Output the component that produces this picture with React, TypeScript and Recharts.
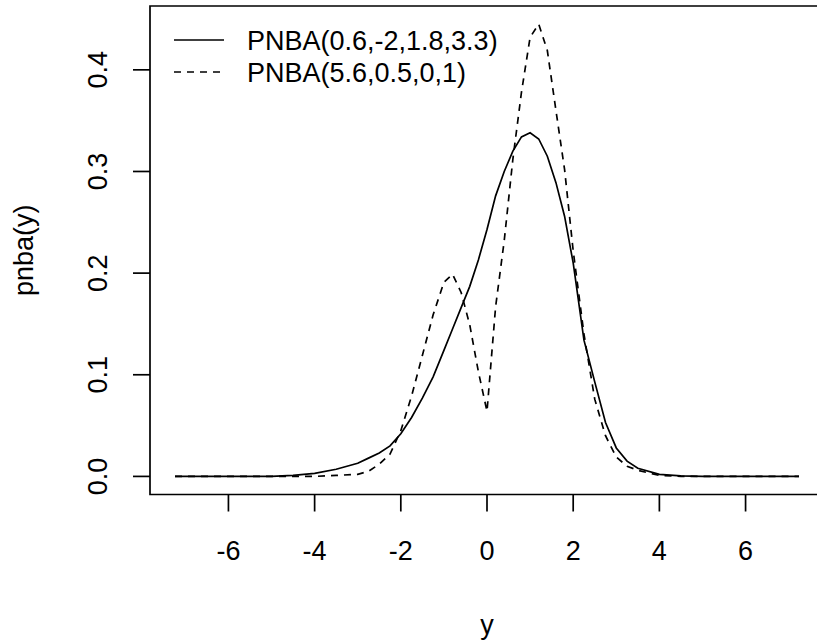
import React from 'react';
import { LineChart, Line, XAxis, YAxis, ReferenceArea } from 'recharts';

// values
const yGrid = [
  -7.24, -6.5, -6, -5.5, -5, -4.5, -4, -3.5, -3,
  -2.75, -2.5, -2.25, -2, -1.75, -1.5, -1.25, -1,
  -0.8, -0.6, -0.4, -0.2, 0,
  0.2, 0.4, 0.6, 0.8, 1,
  1.2, 1.4, 1.6, 1.8, 2,
  2.25, 2.5, 2.75, 3, 3.25, 3.5,
  4, 4.5, 5, 5.5, 6, 6.5, 7.24,
];

const pnbaA = [
  0, 0, 0, 0, 0, 0.001, 0.003, 0.007, 0.013,
  0.018, 0.023, 0.03, 0.042, 0.058, 0.077, 0.098, 0.124,
  0.145, 0.166, 0.187, 0.213, 0.243,
  0.276, 0.3, 0.32, 0.334, 0.338,
  0.332, 0.315, 0.289, 0.256, 0.21,
  0.134, 0.093, 0.053, 0.028, 0.015, 0.008,
  0.002, 0.0005, 0, 0, 0, 0, 0,
];

const pnbaB = [
  0, 0, 0, 0, 0, 0, 0, 0.001, 0.002,
  0.005, 0.012, 0.022, 0.045, 0.079, 0.119, 0.159, 0.191,
  0.199, 0.181, 0.149, 0.103, 0.064,
  0.167, 0.232, 0.312, 0.378, 0.432,
  0.445, 0.419, 0.36, 0.302, 0.222,
  0.14, 0.076, 0.04, 0.019, 0.01, 0.006,
  0.001, 0, 0, 0, 0, 0, 0,
];

const seriesNames = ['PNBA(0.6,-2,1.8,3.3)', 'PNBA(5.6,0.5,0,1)'];
const xTicks = [-6, -4, -2, 0, 2, 4, 6];
const yTicks = [0, 0.1, 0.2, 0.3, 0.4];

const X_DOMAIN: [number, number] = [-7.82, 7.82];
const Y_DOMAIN: [number, number] = [-0.0178, 0.4628];

const FONT = '"Liberation Sans", Arial, sans-serif';
const FS = 27;
const LW = 1.7;
const DASH = '7 6';

const data = yGrid.map((y, i) => ({ y, a: pnbaA[i], b: pnbaB[i] }));

function XTick({ x, y, payload }: any) {
  return (
    <text x={x} y={y + 48} textAnchor="middle" fontFamily={FONT} fontSize={FS} fill="#000">
      {payload.value}
    </text>
  );
}

function YTick({ x, y, payload }: any) {
  const bx = x - 26;
  return (
    <text
      x={bx}
      y={y}
      transform={`rotate(-90, ${bx}, ${y})`}
      textAnchor="middle"
      fontFamily={FONT}
      fontSize={FS}
      fill="#000"
    >
      {Number(payload.value).toFixed(1)}
    </text>
  );
}

function XTitle({ viewBox }: any) {
  const { x, y, width, height } = viewBox;
  return (
    <text x={x + width / 2} y={y + height - 10} textAnchor="middle" fontFamily={FONT} fontSize={FS} fill="#000">
      y
    </text>
  );
}

function YTitle({ viewBox }: any) {
  const { x, y, height } = viewBox;
  const bx = x + 33;
  const cy = y + height / 2;
  return (
    <text
      x={bx}
      y={cy}
      transform={`rotate(-90, ${bx}, ${cy})`}
      textAnchor="middle"
      fontFamily={FONT}
      fontSize={FS}
      fill="#000"
    >
      pnba(y)
    </text>
  );
}

function PlotLegend() {
  const rows = [
    { name: seriesNames[0], dash: undefined },
    { name: seriesNames[1], dash: DASH },
  ];
  return (
    <svg width={520} height={100} style={{ position: 'absolute', left: 0, top: 0 }}>
      {rows.map((r, i) => {
        const cy = 40 + i * 32;
        return (
          <g key={r.name}>
            <line x1={174} x2={224} y1={cy} y2={cy} stroke="#000" strokeWidth={LW} strokeDasharray={r.dash} />
            <text x={247} y={cy + 10} fontFamily={FONT} fontSize={FS} fill="#000">
              {r.name}
            </text>
          </g>
        );
      })}
    </svg>
  );
}

export default function App() {
  return (
    <div
      style={{
        position: 'absolute',
        left: 0,
        top: 0,
        width: 817,
        height: 644,
        overflow: 'hidden',
        background: '#fff',
      }}
    >
      <LineChart width={826} height={644} data={data} margin={{ top: 6, right: 2, bottom: 0, left: 0 }}>
        <XAxis
          dataKey="y"
          type="number"
          domain={X_DOMAIN}
          ticks={xTicks}
          allowDataOverflow
          axisLine={false}
          tickSize={17}
          tickMargin={0}
          tickLine={{ stroke: '#000', strokeWidth: LW }}
          tick={<XTick />}
          height={149.5}
          label={<XTitle />}
        />
        <YAxis
          type="number"
          domain={Y_DOMAIN}
          ticks={yTicks}
          allowDataOverflow
          axisLine={false}
          tickSize={17}
          tickMargin={0}
          tickLine={{ stroke: '#000', strokeWidth: LW }}
          tick={<YTick />}
          width={150}
          label={<YTitle />}
        />
        <ReferenceArea
          x1={X_DOMAIN[0]}
          x2={X_DOMAIN[1]}
          y1={Y_DOMAIN[0]}
          y2={Y_DOMAIN[1]}
          ifOverflow="visible"
          fill="none"
          fillOpacity={0}
          stroke="#000"
          strokeWidth={LW}
        />
        <Line
          type="linear"
          dataKey="a"
          name={seriesNames[0]}
          stroke="#000"
          strokeWidth={LW}
          dot={false}
          activeDot={false}
          isAnimationActive={false}
        />
        <Line
          type="linear"
          dataKey="b"
          name={seriesNames[1]}
          stroke="#000"
          strokeWidth={LW}
          strokeDasharray={DASH}
          dot={false}
          activeDot={false}
          isAnimationActive={false}
        />
      </LineChart>
      <PlotLegend />
    </div>
  );
}
